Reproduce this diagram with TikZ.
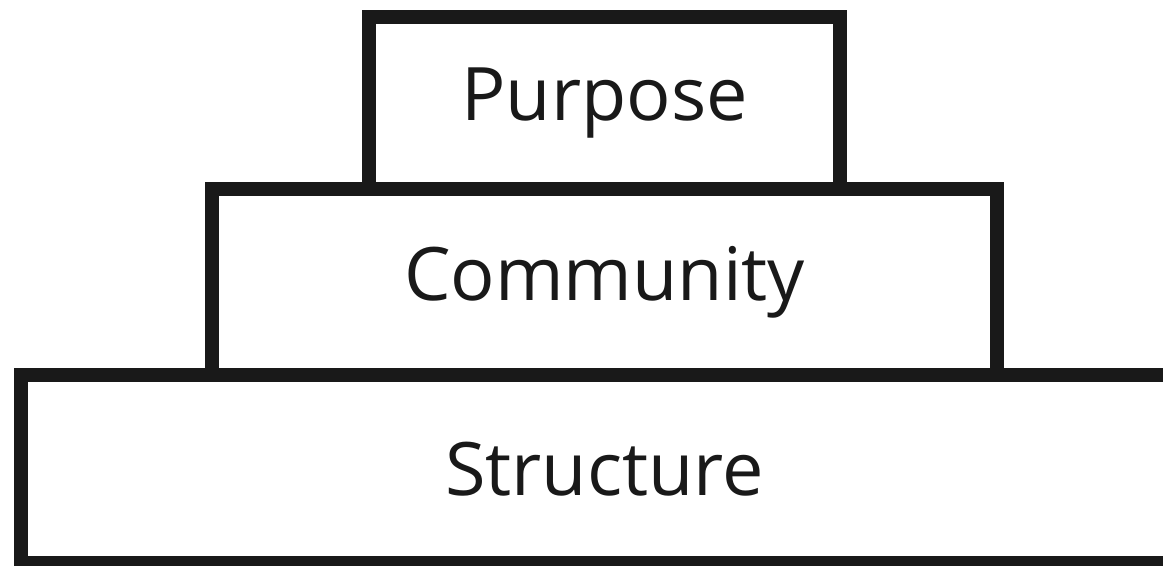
\documentclass[tikz,border=0pt]{standalone}
\usepackage{fontspec}
\setmainfont{Open Sans}
\usetikzlibrary{positioning}

\begin{document}
\begin{tikzpicture}[
    tier/.style={draw=black!90, line width=0.28cm, fill=white, outer sep=0pt, inner sep=0pt,
      font=\fontsize{42}{50}\selectfont, text=black!90},
  ]
    \useasboundingbox (0,0) rectangle (23.26,11.32);
    \clip (0,0) rectangle (23.26,11.32);

    % Pyramid tiers
    \node[tier, minimum width=9.42cm, minimum height=3.44cm] at (12.09,9.26) (purpose) {Purpose};
    \node[tier, anchor=north, minimum width=15.7cm, minimum height=3.72cm] at (purpose.south) (community) {Community};
    \node[tier, anchor=north, minimum width=23.34cm, minimum height=3.76cm] at (community.south) (structure) {Structure};
\end{tikzpicture}
\end{document}
